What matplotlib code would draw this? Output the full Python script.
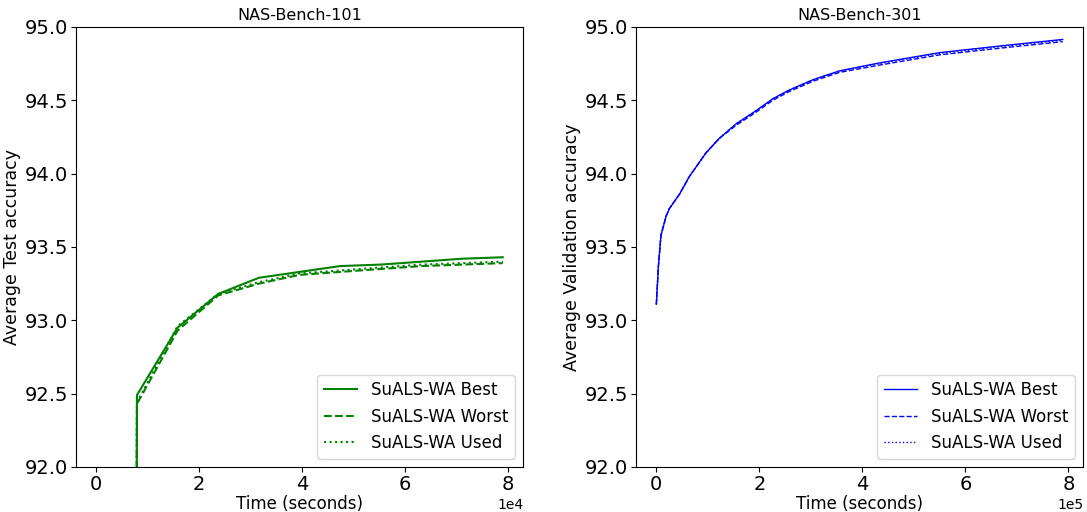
import matplotlib
matplotlib.use("Agg")
import matplotlib.pyplot as plt

# NAS-Bench-101: searches evaluated every ~7.9e3 seconds
NB101_TIME = [0, 7900, 15800, 23700, 31600, 39500, 47400, 55300, 63200, 71100, 79000]
NB101_BEST = [0.0, 92.49, 92.95, 93.18, 93.29, 93.33, 93.37, 93.38, 93.40, 93.42, 93.43]
NB101_WORST = [0.0, 92.43, 92.93, 93.17, 93.25, 93.31, 93.33, 93.35, 93.37, 93.38, 93.39]
NB101_USED = [0.0, 92.44, 92.96, 93.18, 93.26, 93.32, 93.34, 93.36, 93.38, 93.39, 93.40]

# NAS-Bench-301
NB301_TIME = [0, 4000, 9000, 19000, 25000, 45000, 64000, 96000, 122000, 155000, 194000,
              226000, 258000, 304000, 355000, 433000, 550000, 679000, 789000]
NB301_BEST = [93.11, 93.37, 93.58, 93.71, 93.76, 93.86, 93.98, 94.14, 94.24, 94.34, 94.43,
              94.51, 94.57, 94.64, 94.70, 94.755, 94.825, 94.875, 94.915]
NB301_WORST = [93.11, 93.37, 93.58, 93.71, 93.76, 93.86, 93.98, 94.14, 94.24, 94.33, 94.42,
               94.50, 94.56, 94.63, 94.69, 94.74, 94.81, 94.86, 94.90]
NB301_USED = [93.11, 93.37, 93.58, 93.71, 93.76, 93.86, 93.98, 94.14, 94.24, 94.34, 94.43,
              94.51, 94.57, 94.64, 94.70, 94.75, 94.82, 94.87, 94.91]

LABELS = ["SuALS-WA Best", "SuALS-WA Worst", "SuALS-WA Used"]
STYLES = ["-", "--", ":"]

fig = plt.figure(figsize=(10.87, 5.12), dpi=100)
ax1 = fig.add_axes([0.0699, 0.0879, 0.4113, 0.8594])
ax2 = fig.add_axes([0.5851, 0.0879, 0.4113, 0.8594])

for ys, ls, lab in zip([NB101_BEST, NB101_WORST, NB101_USED], STYLES, LABELS):
    ax1.plot(NB101_TIME, ys, color="green", linestyle=ls, linewidth=1.5, label=lab)

for ys, ls, lab in zip([NB301_BEST, NB301_WORST, NB301_USED], STYLES, LABELS):
    ax2.plot(NB301_TIME, ys, color="blue", linestyle=ls, linewidth=1.0, label=lab)

for ax, title, ylabel in [(ax1, "NAS-Bench-101", "Average Test accuracy"),
                          (ax2, "NAS-Bench-301", "Average Validation accuracy")]:
    ax.set_ylim(92.0, 95.0)
    ax.set_title(title, fontsize=11.5, pad=5)
    ax.set_xlabel("Time (seconds)", fontsize=12, labelpad=1)
    ax.set_ylabel(ylabel, fontsize=12.5, labelpad=3)
    ax.tick_params(axis="both", labelsize=14, pad=2)
    ax.ticklabel_format(axis="x", style="sci", scilimits=(0, 0))
    ax.xaxis.get_offset_text().set_fontsize(10)
    ax.legend(loc="lower right", fontsize=12)

ax1.set_xlim(-0.395e4, 8.295e4)
ax2.set_xlim(-0.395e5, 8.285e5)

plt.savefig("out.png", dpi=100)
